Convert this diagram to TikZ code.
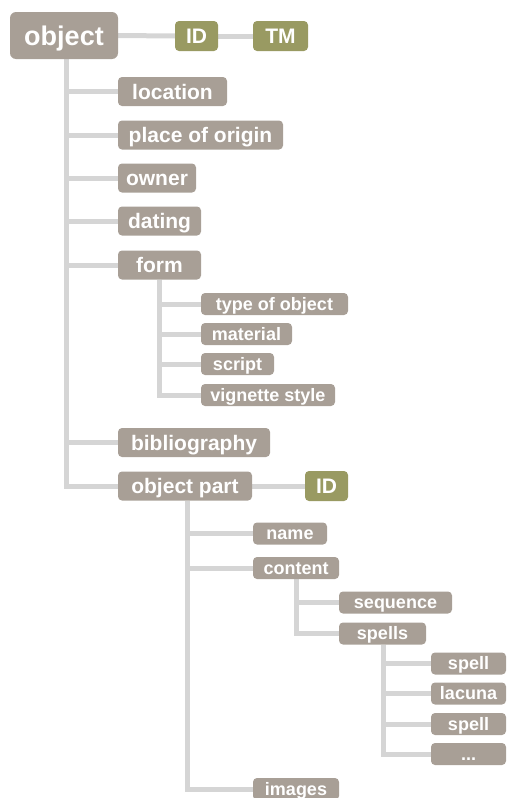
\documentclass[tikz,border=0pt]{standalone}
\usepackage{fontspec}
\setmainfont{Liberation Sans}
\usetikzlibrary{backgrounds}
\begin{document}
\begin{tikzpicture}[x=1pt,y=-1pt,
  every node/.style={inner sep=0pt, outer sep=0pt, text=white,
    text height=15pt, text depth=0pt,
    font=\bfseries\fontsize{21}{24}\selectfont},
  box/.style={fill=boxgrey, rounded corners=4pt, anchor=west, minimum height=29pt},
  subbox/.style={box, minimum height=22pt, text height=12.9pt,
    font=\bfseries\fontsize{18}{20}\selectfont},
  tag/.style={box, fill=olive, minimum height=30pt},
  link/.style={draw=linegrey, line width=5pt}]
\definecolor{boxgrey}{HTML}{A89F96}
\definecolor{olive}{HTML}{999A62}
\definecolor{linegrey}{HTML}{D5D5D5}
\clip (0,0) rectangle (507,798);

% root and its identifiers
\node[box, minimum width=108pt, minimum height=47pt, rounded corners=6pt,
  text height=19.5pt, font=\bfseries\fontsize{27}{30}\selectfont] (object) at (10,35.5) {object};
\node[tag, minimum width=43pt] (id1) at (175,36) {ID};
\node[tag, minimum width=55pt] (tm) at (253,36) {TM};

% first level
\node[box, minimum width=109pt] (location) at (118,91.5) {location};
\node[box, minimum width=165pt] (origin) at (118,135) {place of origin};
\node[box, minimum width=78pt] (owner) at (118,178) {owner};
\node[box, minimum width=83pt] (dating) at (118,221) {dating};
\node[box, minimum width=83pt] (form) at (118,265) {form};
\node[box, minimum width=152pt] (biblio) at (118,442.5) {bibliography};
\node[box, minimum width=134pt] (opart) at (118,486) {object part};
\node[tag, minimum width=43pt] (id2) at (305,486) {ID};

% form details
\node[subbox, minimum width=147pt] (type) at (201,304) {type of object};
\node[subbox, minimum width=91pt] (material) at (201,334) {material};
\node[subbox, minimum width=73pt] (script) at (201,364) {script};
\node[subbox, minimum width=134pt] (vignette) at (201,395) {vignette style};

% object part details
\node[subbox, minimum width=74pt] (name) at (253,533.5) {name};
\node[subbox, minimum width=86pt] (content) at (253,568) {content};
\node[subbox, minimum width=113pt] (sequence) at (339,602.5) {sequence};
\node[subbox, minimum width=87pt] (spells) at (339,633.5) {spells};
\node[subbox, minimum width=75pt] (spell1) at (431,663.5) {spell};
\node[subbox, minimum width=75pt] (lacuna) at (431,693.5) {lacuna};
\node[subbox, minimum width=75pt] (spell2) at (431,724) {spell};
\node[subbox, minimum width=75pt] (more) at (431,754) {...};
\node[subbox, minimum width=86pt] (images) at (253,789) {images};

% connectors, behind the boxes
\begin{pgfonlayer}{background}
  \draw[link] (object.east) -- (id1.west);
  \draw[link] (id1.east) -- (tm.west);
  \coordinate (trunk) at ([xshift=2pt]object.south);
  \foreach \c in {location,origin,owner,dating,form,biblio,opart}
    \draw[link] (trunk) |- (\c.west);
  \foreach \c in {type,material,script,vignette}
    \draw[link] (form.south) |- (\c.west);
  \draw[link] (opart.east) -- (id2.west);
  \coordinate (optrunk) at ([xshift=2pt]opart.south);
  \foreach \c in {name,content,images}
    \draw[link] (optrunk) |- (\c.west);
  \foreach \c in {sequence,spells}
    \draw[link] (content.south) |- (\c.west);
  \foreach \c in {spell1,lacuna,spell2,more}
    \draw[link] ([xshift=1pt]spells.south) |- (\c.west);
\end{pgfonlayer}
\end{tikzpicture}
\end{document}
